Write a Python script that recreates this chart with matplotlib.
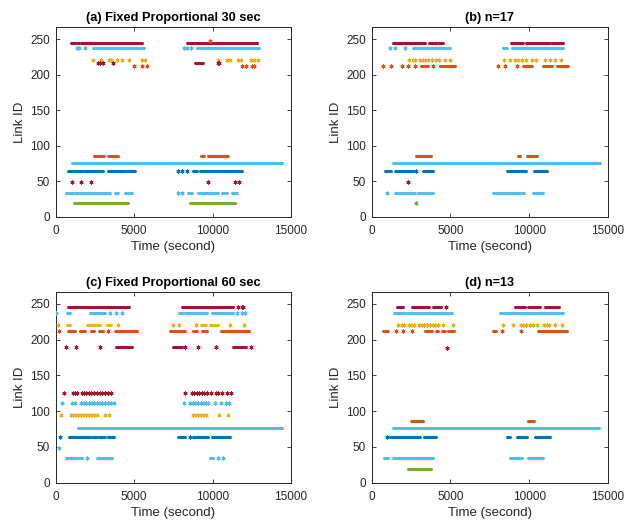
import matplotlib
matplotlib.use("Agg")
import matplotlib.pyplot as plt

plt.rcParams["font.family"] = ["Liberation Sans", "DejaVu Sans"]

# MATLAB-style colour order
BLUE = "#0072BD"
ORANGE = "#D95319"
YELLOW = "#EDB120"
GREEN = "#77AC30"
LBLUE = "#4DBEEE"
DRED = "#A2142F"

titles = ["(a) Fixed Proportional 30 sec", "(b) n=17",
          "(c) Fixed Proportional 60 sec", "(d) n=13"]
x_ticks = [0, 5000, 10000, 15000]
y_ticks = [0, 50, 100, 150, 200, 250]

# Each row: (link id, colour, runs) -- a run is [start, end] in seconds,
# a single observation has start == end.
panel_a = [
    (245, DRED, [[956, 1232], [1338, 1508], [1615, 5524], [8350, 12854]]),
    (248, ORANGE, [[9840, 9840]]),
    (237, LBLUE, [[1339, 1339], [1508, 1508], [1848, 1848], [2401, 5652],
                  [8201, 8201], [8350, 8350], [8605, 8605], [8987, 12981]]),
    (220, YELLOW, [[2401, 2401], [2868, 2868], [3421, 3421], [3527, 3527],
                   [3888, 3888], [4207, 4207], [4695, 4695], [5524, 5524],
                   [5673, 5673], [10326, 10326], [10942, 10942], [11112, 11112],
                   [11600, 11600], [11834, 11834], [12450, 12450],
                   [12641, 12641], [12918, 12918]]),
    (217, DRED, [[2719, 2719], [2826, 2826], [3038, 3038], [3633, 3633],
                 [8881, 9412], [10368, 10368], [10432, 10432]]),
    (212, ORANGE, [[4993, 4993], [5481, 5481], [5800, 5800], [11855, 11855],
                   [12131, 12131], [12492, 12492], [12641, 12641]]),
    (86, ORANGE, [[2443, 3102], [3314, 3994], [9242, 9476], [9688, 11005]]),
    (76, LBLUE, [[1062, 14447]]),
    (64, BLUE, [[765, 1338], [1445, 1760], [1870, 2290], [2400, 2996],
                [3357, 3890], [3994, 4420], [4530, 5057], [7818, 7818],
                [8031, 8031], [8350, 8350], [8775, 8987], [9200, 9625],
                [9730, 10580], [10687, 11220], [11320, 11855]]),
    (49, DRED, [[1062, 1062], [1593, 1593], [2252, 2252], [9730, 9730],
                [11430, 11430], [11706, 11706]]),
    (34, LBLUE, [[659, 1126], [1232, 3463], [3782, 3994], [4419, 4844],
                 [7776, 7776], [8073, 8073], [8413, 8668], [9093, 10368],
                 [10580, 10899], [11218, 11536]]),
    (19, GREEN, [[1168, 4632], [8562, 11430]]),
]

panel_b = [
    (245, DRED, [[1333, 3385], [3618, 4168], [4295, 4506], [8844, 9626],
                 [9796, 11319], [11467, 12165]]),
    (237, LBLUE, [[1164, 1164], [1481, 1481], [2116, 2116], [2602, 4972],
                  [8357, 8569], [8886, 12165]]),
    (220, YELLOW, [[2391, 2391], [2602, 2602], [2750, 2750], [3068, 3068],
                   [3237, 3237], [3385, 3385], [3597, 3597], [3808, 3808],
                   [4083, 4083], [4295, 4295], [4655, 4655], [4972, 4972],
                   [8399, 8399], [8780, 8780], [9098, 9098], [9309, 9309],
                   [9521, 9521], [9796, 9796], [10155, 10155], [10430, 10430],
                   [11002, 11002], [11319, 11319], [11636, 11636],
                   [11996, 11996]]),
    (212, ORANGE, [[741, 741], [1227, 1227], [1904, 1904], [2327, 2327],
                   [2750, 2750], [3110, 3597], [3914, 3914], [4337, 5289],
                   [8040, 8040], [8463, 8463], [9203, 9203], [9626, 10155],
                   [10854, 11425], [11742, 12483]]),
    (86, ORANGE, [[2793, 3766], [9267, 9415], [9838, 10473]]),
    (76, LBLUE, [[1333, 14492]]),
    (64, BLUE, [[846, 1227], [1481, 2602], [2814, 2814], [3279, 3914],
                [8611, 9796], [10325, 11107]]),
    (49, DRED, [[2327, 2327]]),
    (34, LBLUE, [[952, 952], [1481, 2750], [2962, 3872], [7680, 9669],
                 [10219, 10854]]),
    (19, GREEN, [[2814, 2814]]),
]

panel_c = [
    (245, DRED, [[754, 4681], [8036, 11327], [11645, 11645], [11857, 11857],
                 [11963, 11963]]),
    (237, LBLUE, [[32, 32], [711, 924], [2197, 3153], [3471, 3471],
                  [3853, 3853], [4214, 4214], [7887, 8142], [8248, 9628],
                  [9947, 11327], [11539, 11539], [11857, 11857],
                  [12070, 12070]]),
    (220, YELLOW, [[117, 117], [711, 881], [1985, 2834], [3259, 3514],
                   [4002, 4002], [7505, 7505], [7887, 7887], [8928, 8928],
                   [9246, 9565], [9841, 10372], [11115, 11115],
                   [12007, 12007]]),
    (212, ORANGE, [[223, 223], [754, 1242], [1518, 1879], [2240, 2410],
                   [2728, 3004], [3365, 3365], [3790, 5170], [7293, 8248],
                   [8736, 9034], [9310, 9628], [10521, 12347]]),
    (190, DRED, [[669, 669], [1306, 1306], [2834, 2834], [3853, 4851],
                 [7463, 8036], [8248, 8248], [9097, 9097], [10202, 10202],
                 [11327, 12134], [12432, 12432]]),
    (126, DRED, [[t, t] for t in
                 [499, 1093, 1242, 1348, 1667, 1773, 1943, 2092, 2261, 2431,
                  2622, 2792, 2962, 3153, 3323, 3535, 8269, 8673, 8822, 8991,
                  9161, 9331, 9480, 9628, 9905, 10202, 10372, 10584, 10903,
                  11179]]),
    (111, LBLUE, [[t, t] for t in
                  [414, 1030, 1200, 1624, 1773, 1943, 2112, 2282, 2452, 2622,
                   2792, 2962, 3153, 3344, 3514, 3684, 8206, 8567, 8736, 8906,
                   9076, 9246, 9416, 9586, 9734, 10159, 10521, 10839,
                   11073]]),
    (94, YELLOW, [[t, t] for t in
                  [350, 966, 1093, 1242, 1412, 1624, 1773, 1921, 2092, 2240,
                   2410, 2622, 3153, 3408, 8779, 8949, 9097, 9267, 9416, 9565,
                   10435, 11009]]),
    (76, LBLUE, [[1391, 14448]]),
    (64, BLUE, [[287, 287], [817, 1773], [1879, 2197], [2303, 2622],
                [2728, 3153], [3302, 3684], [7824, 8248], [8567, 8567],
                [8779, 9734], [9947, 11115]]),
    (49, LBLUE, [[180, 180]]),
    (34, LBLUE, [[669, 1136], [1242, 1667], [1985, 1985], [2622, 3577],
                 [9841, 10053], [10329, 10329], [10648, 10648]]),
]

panel_d = [
    (245, DRED, [[1587, 2010], [2539, 3660], [3872, 4380], [4718, 4718],
                 [9098, 9732], [9944, 10684], [11002, 11911]]),
    (237, LBLUE, [[1439, 2116], [2264, 5078], [8145, 8674], [8780, 12165]]),
    (220, YELLOW, [[t, t] for t in
                   [1650, 1946, 2073, 2370, 2497, 2687, 3004, 3174, 3343,
                    3533, 3702, 3872, 4020, 4189, 4549, 5141, 8357, 8992,
                    9457, 9626, 9796, 10050, 10219, 10473, 10938, 11107,
                    11277, 11636, 12059]]),
    (212, ORANGE, [[741, 1058], [1523, 1523], [2010, 2010], [2539, 2539],
                   [3385, 3808], [4083, 4231], [4443, 4655], [4866, 5226],
                   [7680, 7892], [8251, 8251], [9457, 9457], [10579, 12419]]),
    (189, DRED, [[4760, 4760]]),
    (86, ORANGE, [[2475, 3279], [9901, 10325]]),
    (76, LBLUE, [[1333, 14450]]),
    (64, BLUE, [[994, 994], [1164, 3068], [3322, 4083], [8569, 8780],
                [9203, 9838], [10367, 11319]]),
    (34, LBLUE, [[804, 1058], [1375, 3914], [8780, 9521], [9944, 10854]]),
    (19, GREEN, [[2327, 3766]]),
]

panels = [panel_a, panel_b, panel_c, panel_d]

AX_COL = "#262626"
fig = plt.figure(figsize=(6.24, 5.26), dpi=100)
boxes = [
    [0.0893, 0.5875, 0.3770, 0.3612],
    [0.5957, 0.5875, 0.3787, 0.3612],
    [0.0893, 0.0823, 0.3770, 0.3631],
    [0.5957, 0.0823, 0.3787, 0.3631],
]

for box, rows, title in zip(boxes, panels, titles):
    ax = fig.add_axes(box)
    for link, col, runs in rows:
        segs = [r for r in runs if r[1] > r[0]]
        pts = [r[0] for r in runs if r[1] == r[0]]
        if segs:
            ax.hlines([link] * len(segs), [s[0] for s in segs],
                      [s[1] for s in segs], colors=col, linewidth=2.2,
                      capstyle="round", zorder=2)
        if pts:
            ax.scatter(pts, [link] * len(pts), marker=(6, 2, 0), s=5,
                       color=col, linewidths=0.8, zorder=3)
    ax.set_xlim(0, 15000)
    ax.set_ylim(0, 267)
    ax.set_xticks(x_ticks)
    ax.set_yticks(y_ticks)
    ax.tick_params(direction="in", length=3, width=0.6, colors=AX_COL,
                   labelsize=8.5, top=True, right=True)
    ax.tick_params(axis="x", pad=6)
    ax.tick_params(axis="y", pad=4)
    for sp in ax.spines.values():
        sp.set_color(AX_COL)
        sp.set_linewidth(0.7)
    ax.set_xlabel("Time (second)", fontsize=9.5, color=AX_COL, labelpad=3)
    ax.set_ylabel("Link ID", fontsize=9.5, color=AX_COL, labelpad=3)
    ax.set_title(title, fontsize=9.2, fontweight="bold", color="black", pad=4)

fig.savefig("out.png", dpi=100)
